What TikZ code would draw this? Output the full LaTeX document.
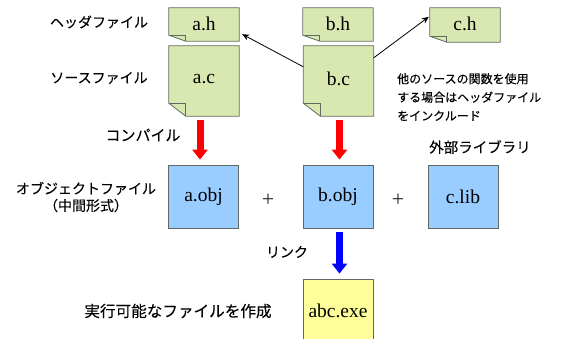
\documentclass[tikz,border=0pt]{standalone}
\usepackage{fontspec}
\setmainfont{Liberation Serif}
\newfontfamily\jpfont[FakeBold=0.1]{Noto Sans CJK JP}
\usetikzlibrary{calc,backgrounds,arrows.meta}
\definecolor{notegreen}{HTML}{D9E8B0}
\definecolor{objblue}{HTML}{99CCFF}
\definecolor{exeyellow}{HTML}{FFFF99}
\definecolor{edgegray}{HTML}{5F6B60}
\tikzset{
  filebox/.style={inner sep=0pt,minimum width=70pt,font=\fontsize{19.5}{22}\selectfont},
  objbox/.style={draw=edgegray,line width=0.8pt,fill=objblue,inner sep=0pt,minimum width=70pt,minimum height=63pt,font=\fontsize{19.5}{22}\selectfont},
  exebox/.style={objbox,fill=exeyellow},
  notebody/.style={draw=edgegray,line width=0.8pt,fill=notegreen,line join=miter},
  notefold/.style={draw=edgegray,line width=0.8pt},
  caption/.style={font=\jpfont\fontsize{14}{17}\selectfont,align=center,text=black,inner sep=0pt},
  smallnote/.style={font=\jpfont\fontsize{12}{18.5}\selectfont,align=left,text=black,inner sep=0pt},
  plus/.style={font=\fontsize{22}{24}\selectfont,text=black!85,inner sep=0pt},
  dep/.style={draw=black,line width=0.8pt,-{Stealth[length=7pt,width=6pt]}},
  compilearrow/.style={draw=red,line width=7pt,-{Triangle[length=10pt,width=15pt]},shorten <=4pt,shorten >=5pt},
  linkarrow/.style={compilearrow,draw=blue}
}
\newcommand{\notefill}[3]{%
  \path[notebody] (#1.north west) -- (#1.north east) -- (#1.south east)
    -- ($(#1.south west)+(#2,0)$) -- ($(#1.south west)+(0,-#3)$) -- cycle;
  \draw[notefold] ($(#1.south west)+(0,-#3)$) -- ($(#1.south west)+(#2,-#3)$) -- ($(#1.south west)+(#2,0)$);
}
\begin{document}
\begin{tikzpicture}[x=1pt,y=-1pt]
\useasboundingbox (0,0) rectangle (573,338);
\clip (0,0) rectangle (573,338);
% files
\node[filebox,minimum height=33pt] (ah) at (204,24.5) {\raisebox{2pt}{a.h}};
\node[filebox,minimum height=33pt] (bh) at (338,24.5) {\raisebox{2pt}{b.h}};
\node[filebox,minimum height=34pt] (ch) at (465,25) {\raisebox{2pt}{c.h}};
\node[filebox,minimum height=70pt] (ac) at (204,81) {\raisebox{4pt}{a.c}};
\node[filebox,minimum height=70pt] (bc) at (338.5,81) {\raisebox{4pt}{b.c}};
\begin{scope}[on background layer]
\notefill{ah}{17}{6}
\notefill{bh}{17}{6}
\notefill{ch}{17}{6}
\notefill{ac}{17}{13}
\notefill{bc}{17}{13}
\end{scope}
% objects
\node[objbox] (aobj) at (203.5,196.5) {a.obj};
\node[objbox] (bobj) at (338,196.5) {b.obj};
\node[objbox] (clib) at (463,196.5) {c.lib};
\node[exebox,minimum height=64pt] (exe) at (338,311) {abc.exe};
\node[plus] (p1) at (268,200) {+};
\node[plus] (p2) at (398,200) {+};
% captions
\node[caption] (t1) at (99,22) {ヘッダファイル};
\node[caption] (t2) at (99,78) {ソースファイル};
\node[caption,font=\jpfont\fontsize{15}{17}\selectfont] (t3) at (143,135) {コンパイル};
\node[caption] (t4) at (86,197) {オブジェクトファイル\\（中間形式）};
\node[caption] (t5) at (287,252) {リンク};
\node[caption,font=\jpfont\fontsize{15.6}{17}\selectfont] (t6) at (178,311) {実行可能なファイルを作成};
\node[caption,font=\jpfont\fontsize{14.5}{17}\selectfont] (t7) at (480,147) {外部ライブラリ};
\node[smallnote,anchor=north west] (t8) at (397,73) {他のソースの関数を使用\\する場合はヘッダファイル\\をインクルード};
% connectors
\draw[dep] ($(bc.north west)+(0,21)$) -- ($(ah.south east)+(3,-7)$);
\draw[dep] ($(bc.north east)+(0,12)$) -- ($(ch.north west)+(-1,9)$);
\draw[compilearrow] ($(ac.south)+(-4,0)$) -- ($(aobj.north)+(-3.5,0)$);
\draw[compilearrow] ($(bc.south)+(1,0)$) -- ($(bobj.north)+(1.5,0)$);
\draw[linkarrow] ($(bobj.south)+(1.5,0)$) -- ($(exe.north)+(1.5,0)$);
\end{tikzpicture}
\end{document}
